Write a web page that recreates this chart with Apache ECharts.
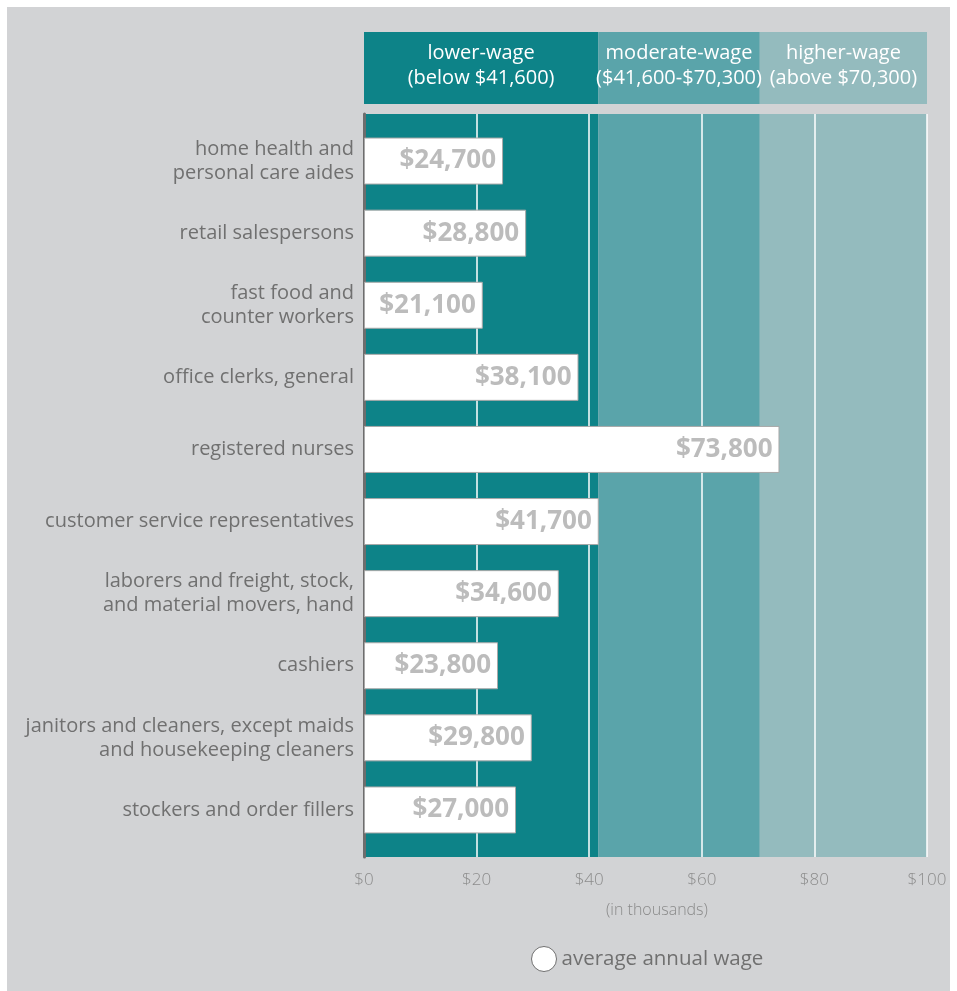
<!DOCTYPE html>
<html><head><meta charset="utf-8">
<script src="https://cdn.jsdelivr.net/npm/echarts@6/dist/echarts.min.js"></script>
<style>html,body{margin:0;padding:0;background:#fff;}#c{width:957px;height:991px;}</style>
</head><body><div id="c"></div>
<script>
const occupations = [
  'home health and\npersonal care aides',
  'retail salespersons',
  'fast food and\ncounter workers',
  'office clerks, general',
  'registered nurses',
  'customer service representatives',
  'laborers and freight, stock,\nand material movers, hand',
  'cashiers',
  'janitors and cleaners, except maids\nand housekeeping cleaners',
  'stockers and order fillers'
];
const avgWage = [24.7, 28.8, 21.1, 38.1, 73.8, 41.7, 34.6, 23.8, 29.8, 27.0]; // thousands
const wageBands = [
  {from: 0, to: 41.6, name: 'lower-wage\n(below $41,600)', color: '#0d8388'},
  {from: 41.6, to: 70.3, name: 'moderate-wage\n($41,600-$70,300)', color: '#5aa4aa'},
  {from: 70.3, to: 100, name: 'higher-wage\n(above $70,300)', color: '#94bbbe'}
];
const xMin = 0, xMax = 100, xStep = 20;

const FONT = '"Open Sans", "Noto Sans", sans-serif';
const chart = echarts.init(document.getElementById('c'), null, {renderer: 'canvas'});
const bandAreas = wageBands.map(b => [{xAxis: b.from, itemStyle: {color: b.color}}, {xAxis: b.to}]);
const headerAreas = wageBands.map(b => [{xAxis: b.from, name: b.name, itemStyle: {color: b.color}}, {xAxis: b.to}]);

chart.setOption({
  backgroundColor: '#ffffff',
  animation: false,
  graphic: [
    {type: 'rect', z: -10, shape: {x: 7, y: 7, width: 943, height: 984}, style: {fill: '#d2d3d5'}},
    {type: 'text', left: 606, top: 902, style: {text: '(in thousands)', fill: '#8a8a8a', font: '300 16px ' + FONT}}
  ],
  grid: [
    {left: 364, right: 30, top: 114, bottom: 134},
    {left: 364, right: 30, top: 125, bottom: 145},
    {left: 364, right: 30, top: 32, height: 72}
  ],
  xAxis: [
    {gridIndex: 0, type: 'value', min: xMin, max: xMax, interval: xStep, z: 3,
     axisLine: {show: false}, axisTick: {show: false},
     splitLine: {show: true, lineStyle: {color: '#ffffff', width: 1.5}},
     axisLabel: {formatter: v => '$' + v, color: '#8c8c8c', fontSize: 17, fontFamily: FONT, fontWeight: 300, margin: 15}},
    {gridIndex: 1, type: 'value', min: xMin, max: xMax, show: false},
    {gridIndex: 2, type: 'value', min: xMin, max: xMax, show: false}
  ],
  yAxis: [
    {gridIndex: 0, type: 'value', min: 0, max: 1, z: 4,
     axisLine: {show: true, lineStyle: {color: '#6d6d6d', width: 3}},
     axisTick: {show: false}, axisLabel: {show: false}, splitLine: {show: false}},
    {gridIndex: 1, type: 'category', inverse: true, data: occupations,
     axisLine: {show: false}, axisTick: {show: false},
     axisLabel: {color: '#707070', fontSize: 20, fontFamily: FONT, lineHeight: 24, margin: 10, align: 'right'}},
    {gridIndex: 2, type: 'value', min: 0, max: 1, show: false}
  ],
  legend: {
    left: 526, top: 941, icon: 'circle', itemWidth: 25, itemHeight: 25, itemGap: 8,
    itemStyle: {color: '#ffffff', borderColor: '#707070', borderWidth: 1},
    textStyle: {color: '#707070', fontSize: 20.5, fontFamily: FONT},
    data: ['average annual wage']
  },
  series: [
    {type: 'line', xAxisIndex: 0, yAxisIndex: 0, data: [], z: 1, silent: true,
     markArea: {silent: true, data: bandAreas, label: {show: false}}},
    {type: 'line', xAxisIndex: 2, yAxisIndex: 2, data: [], z: 1, silent: true,
     markArea: {silent: true, data: headerAreas,
       label: {show: true, position: 'inside', offset: [0, -2], color: '#ffffff', fontSize: 20, lineHeight: 25, fontFamily: FONT}}},
    {name: 'average annual wage', type: 'bar', xAxisIndex: 1, yAxisIndex: 1, z: 6,
     data: avgWage, barWidth: 47,
     itemStyle: {color: '#ffffff', borderColor: '#a8a8a8', borderWidth: 1},
     label: {show: true, position: 'insideRight', distance: 7,
       formatter: p => '$' + Math.round(p.value * 1000).toLocaleString('en-US'),
       color: '#bcbcbc', fontSize: 26, fontWeight: 'bold', fontFamily: FONT}}
  ]
});
</script></body></html>
